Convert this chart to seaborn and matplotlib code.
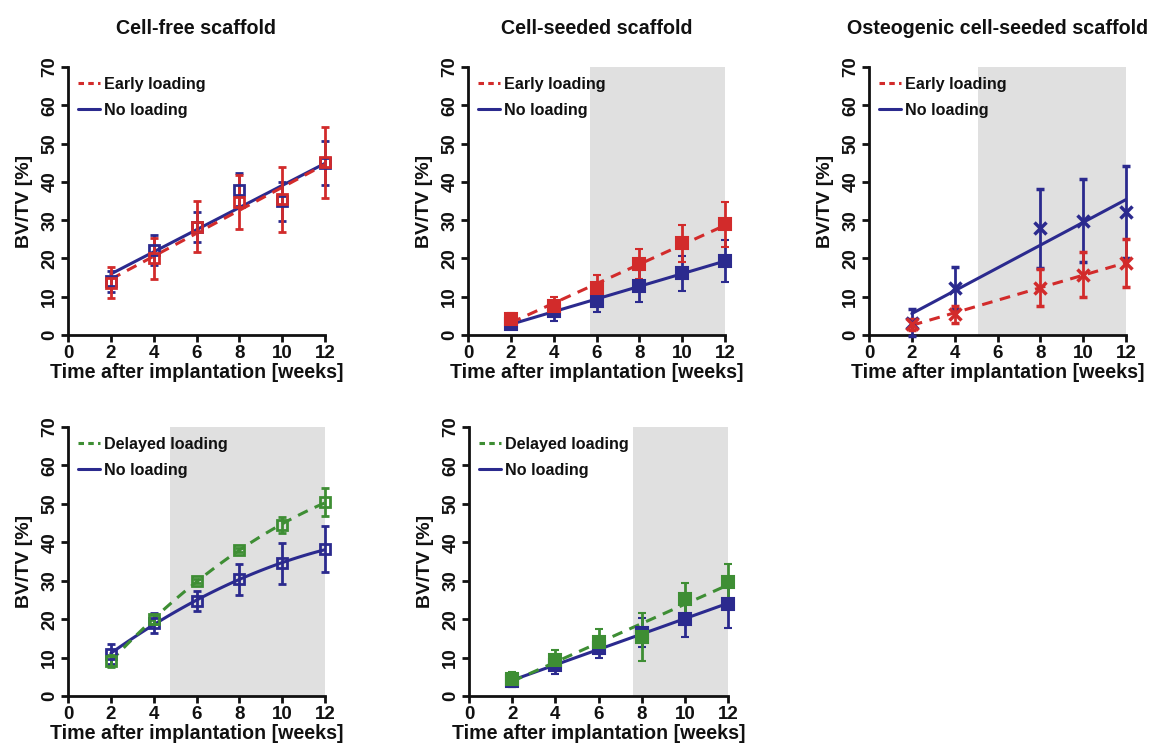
import seaborn as sns
import matplotlib.pyplot as plt
from matplotlib.lines import Line2D

weeks = [2, 4, 6, 8, 10, 12]
weeks_osteo = [2, 4, 8, 10, 12]

# cell-free scaffold (early loading vs no loading)
free_early = [13.7, 20.0, 28.3, 34.8, 35.5, 45.1]
free_early_sd = [4.0, 5.4, 6.6, 7.0, 8.5, 9.3]
free_none = [14.0, 22.2, 28.3, 38.0, 34.9, 44.9]
free_none_sd = [2.8, 3.9, 3.9, 4.2, 5.0, 5.8]

# cell-seeded scaffold
seed_early = [4.3, 7.6, 12.4, 18.5, 23.9, 28.9]
seed_early_sd = [1.5, 2.4, 3.4, 3.9, 4.8, 5.8]
seed_none = [3.0, 6.2, 8.8, 12.8, 16.1, 19.4]
seed_none_sd = [1.0, 2.5, 2.9, 4.1, 4.6, 5.5]

# osteogenic cell-seeded scaffold (no week 6)
osteo_early = [2.8, 5.4, 12.4, 15.8, 18.8]
osteo_early_sd = [1.5, 2.3, 4.9, 5.9, 6.3]
osteo_none = [3.2, 12.2, 27.9, 29.9, 32.2]
osteo_none_sd = [3.5, 5.5, 10.3, 10.9, 12.0]

# cell-free scaffold, delayed loading
free_delay = [9.1, 20.0, 29.9, 38.0, 44.5, 50.4]
free_delay_sd = [1.5, 1.2, 0.5, 0.5, 2.0, 3.6]
free_none2 = [10.9, 19.0, 24.7, 30.4, 34.5, 38.2]
free_none2_sd = [2.6, 2.5, 2.7, 4.0, 5.4, 6.0]

# cell-seeded scaffold, delayed loading
seed_delay = [4.3, 9.4, 14.1, 15.4, 25.2, 29.7]
seed_delay_sd = [2.0, 2.5, 3.3, 6.2, 4.3, 4.6]
seed_none2 = [3.8, 8.1, 12.4, 16.5, 20.0, 23.9]
seed_none2_sd = [1.5, 2.4, 2.6, 3.7, 4.6, 6.2]

titles = ["Cell-free scaffold", "Cell-seeded scaffold", "Osteogenic cell-seeded scaffold"]
shade_start = [None, 5.7, 5.1, 4.75, 7.6]

RED = "#d22b2b"
BLUE = "#2b2a8e"
GREEN = "#3e8e34"
SHADE = "#e0e0e0"
INK = "#111111"

sns.set_theme(style="ticks")
plt.rcParams["font.family"] = ["Liberation Sans", "DejaVu Sans"]
plt.rcParams["font.weight"] = "bold"
plt.rcParams["text.color"] = INK
plt.rcParams["axes.labelcolor"] = INK
plt.rcParams["xtick.color"] = INK
plt.rcParams["ytick.color"] = INK

fig = plt.figure(figsize=(11.49, 7.44), dpi=100)
W, H = 1149, 744


def make_ax(left, right, top, bottom):
    return fig.add_axes([left / W, 1 - bottom / H, (right - left) / W, (bottom - top) / H])


def draw_series(ax, x, y, sd, color, ls, marker, filled, order):
    kws = dict(color=color, ls=ls, lw=2.2)
    if ls == "--":
        kws["dashes"] = (3.5, 2.5)
    sns.regplot(x=x, y=y, ax=ax, scatter=False, ci=None, order=order, truncate=True,
                line_kws=kws)
    if marker == "x":
        mfc = color
        ms, mew = 8, 2.5
    else:
        mfc = color if filled else "none"
        ms, mew = (8, 1.5) if filled else (7, 2)
    ax.errorbar(x, y, yerr=sd, fmt=marker, color=color, ms=ms, mfc=mfc, mec=color,
                mew=mew, elinewidth=2, capsize=3, capthick=2, zorder=3, clip_on=False)


def panel(ax, x, load, load_sd, none, none_sd, load_label, load_color,
          marker, filled, shade, order=1, title=None):
    if shade is not None:
        ax.axvspan(shade, 12, color=SHADE, lw=0, zorder=0)
    draw_series(ax, x, none, none_sd, BLUE, "-", marker, filled, order)
    draw_series(ax, x, load, load_sd, load_color, "--", marker, filled, order)

    ax.set_xlim(0, 12)
    ax.set_ylim(0, 70)
    ax.set_xticks(range(0, 13, 2))
    ax.set_yticks(range(0, 71, 10))
    ax.tick_params(direction="out", length=5, width=2, labelsize=13.5, pad=2, color=INK)
    ax.tick_params(axis="y", labelrotation=90)
    for t in ax.get_yticklabels():
        t.set_va("center")
        t.set_fontweight("bold")
    for t in ax.get_xticklabels():
        t.set_fontweight("bold")
    sns.despine(ax=ax)
    for s in ["left", "bottom"]:
        ax.spines[s].set_linewidth(2)
        ax.spines[s].set_color(INK)
    ax.set_facecolor("none")
    ax.set_xlabel("Time after implantation [weeks]", fontsize=14.1, fontweight="bold", labelpad=1)
    ax.set_ylabel("BV/TV [%]", fontsize=14, fontweight="bold", labelpad=6)
    if title:
        ax.set_title(title, fontsize=14.2, fontweight="bold", pad=24)

    handles = [Line2D([], [], color=load_color, ls="--", lw=2.2, dashes=(1.8, 1.4)),
               Line2D([], [], color=BLUE, ls="-", lw=2.2)]
    ax.legend(handles, [load_label, "No loading"], loc="upper left", frameon=False,
              handlelength=1.4, handletextpad=0.25, labelspacing=0.68,
              borderaxespad=0.2, bbox_to_anchor=(0.0, 1.0),
              prop=dict(weight="bold", size=11.6))


ax1 = make_ax(68, 325, 67, 335)
panel(ax1, weeks, free_early, free_early_sd, free_none, free_none_sd, "Early loading", RED,
      "s", False, shade_start[0], title=titles[0])

ax2 = make_ax(468, 725, 67, 335)
panel(ax2, weeks, seed_early, seed_early_sd, seed_none, seed_none_sd, "Early loading", RED,
      "s", True, shade_start[1], title=titles[1])

ax3 = make_ax(869, 1126, 67, 335)
panel(ax3, weeks_osteo, osteo_early, osteo_early_sd, osteo_none, osteo_none_sd, "Early loading", RED,
      "x", True, shade_start[2], title=titles[2])

ax4 = make_ax(68, 325, 427, 696)
panel(ax4, weeks, free_delay, free_delay_sd, free_none2, free_none2_sd, "Delayed loading", GREEN,
      "s", False, shade_start[3], order=2)

ax5 = make_ax(469, 728, 427, 696)
panel(ax5, weeks, seed_delay, seed_delay_sd, seed_none2, seed_none2_sd, "Delayed loading", GREEN,
      "s", True, shade_start[4])

fig.savefig("out.png", dpi=100, facecolor="white")
